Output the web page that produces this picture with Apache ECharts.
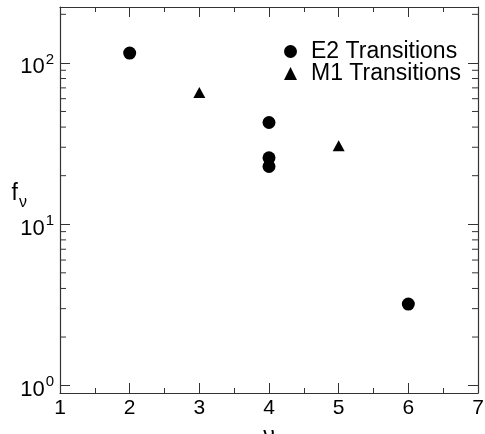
<!DOCTYPE html>
<html>
<head>
<meta charset="utf-8">
<script src="https://cdn.jsdelivr.net/npm/echarts@6/dist/echarts.min.js"></script>
<style>
  html, body { margin: 0; padding: 0; background: #fff; }
  #main { width: 485px; height: 434px; }
</style>
</head>
<body>
<div id="main"></div>
<script>
// data
var e2Nu = [2, 4, 4, 4, 6];
var e2F = [115, 42.7, 25.8, 22.8, 3.2];
var m1Nu = [3, 5];
var m1F = [65.5, 30.6];
var minorVals = [2, 3, 4, 5, 6, 7, 8, 9, 20, 30, 40, 50, 60, 70, 80, 90, 200];

var font = 'Liberation Sans, Arial, sans-serif';
var axisColor = '#333';

function pairs(xs, ys) {
  return xs.map(function (x, i) { return [x, ys[i]]; });
}

var chart = echarts.init(document.getElementById('main'));

var baseX = {
  type: 'value', min: 1, max: 7, interval: 1,
  axisLine: { onZero: false, lineStyle: { color: axisColor, width: 1.2 } },
  axisTick: { inside: true, length: 10, lineStyle: { color: axisColor } },
  minorTick: { show: true, splitNumber: 2, length: 5, lineStyle: { color: axisColor } },
  splitLine: { show: false }
};
var baseY = {
  type: 'log', logBase: 10, min: 0.9, max: 222,
  axisLine: { show: true, lineStyle: { color: axisColor, width: 1.2 } },
  axisTick: { inside: true, length: 10, lineStyle: { color: axisColor } },
  splitLine: { show: false }
};

chart.setOption({
  animation: false,
  backgroundColor: '#fff',
  grid: { left: 60, right: 7, top: 7, bottom: 41, outerBoundsMode: 'none', containLabel: false },
  legend: {
    data: [
      { name: 'E2 Transitions', icon: 'circle' },
      { name: 'M1 Transitions', icon: 'triangle' }
    ],
    orient: 'vertical',
    left: 284, top: 40, padding: 0,
    itemWidth: 13, itemHeight: 13, itemGap: -1,
    textStyle: { fontFamily: font, fontSize: 23, lineHeight: 22, color: '#000', padding: [0, 0, 0, 9] }
  },
  xAxis: [
    Object.assign({}, baseX, {
      position: 'bottom',
      name: 'ν', nameLocation: 'middle', nameGap: 32, nameMoveOverlap: false,
      nameTextStyle: { fontFamily: font, fontSize: 23, color: '#000' },
      axisLabel: { fontFamily: font, fontSize: 21, color: '#000', margin: 5 }
    }),
    Object.assign({}, baseX, { position: 'top', axisLabel: { show: false } })
  ],
  yAxis: [
    Object.assign({}, baseY, {
      position: 'left',
      name: '{f|f}{s|ν}', nameLocation: 'middle', nameRotate: 0, nameGap: 33, nameMoveOverlap: false,
      nameTextStyle: {
        padding: [0, 0, 12, 0],
        rich: {
          f: { fontFamily: font, fontSize: 23, color: '#000', padding: [0, 0, 0, 0] },
          s: { fontFamily: font, fontSize: 16, color: '#000', padding: [18, 0, 0, 1] }
        }
      },
      axisLabel: {
        margin: 6,
        formatter: function (v) {
          var e = Math.log10(v);
          if (Math.abs(e - Math.round(e)) > 1e-6) return '';
          return '{b|10}{s|' + Math.round(e) + '}';
        },
        rich: {
          b: { fontFamily: font, fontSize: 22, color: '#000', padding: [9, 0, 0, 0] },
          s: { fontFamily: font, fontSize: 15, color: '#000', padding: [0, 0, 7, 1] }
        }
      }
    }),
    Object.assign({}, baseY, { position: 'right', axisLabel: { show: false } })
  ],
  series: [
    {
      name: 'E2 Transitions', type: 'scatter', symbol: 'circle', symbolSize: 13,
      itemStyle: { color: '#000', opacity: 1 },
      data: pairs(e2Nu, e2F)
    },
    {
      name: 'M1 Transitions', type: 'scatter', symbol: 'triangle', symbolSize: [12, 11],
      itemStyle: { color: '#000', opacity: 1 },
      data: pairs(m1Nu, m1F)
    },
    {
      // log-spaced minor ticks on left and right frame
      name: 'minor', type: 'custom', silent: true, clip: false,
      data: minorVals.map(function (v) { return [1, v]; }),
      renderItem: function (params, api) {
        var l = api.coord([1, api.value(1)]);
        var r = api.coord([7, api.value(1)]);
        var st = { stroke: axisColor, lineWidth: 1 };
        return {
          type: 'group',
          children: [
            { type: 'line', shape: { x1: l[0], y1: l[1], x2: l[0] + 6, y2: l[1] }, style: st },
            { type: 'line', shape: { x1: r[0] - 6, y1: r[1], x2: r[0], y2: r[1] }, style: st }
          ]
        };
      }
    }
  ]
});
</script>
</body>
</html>
